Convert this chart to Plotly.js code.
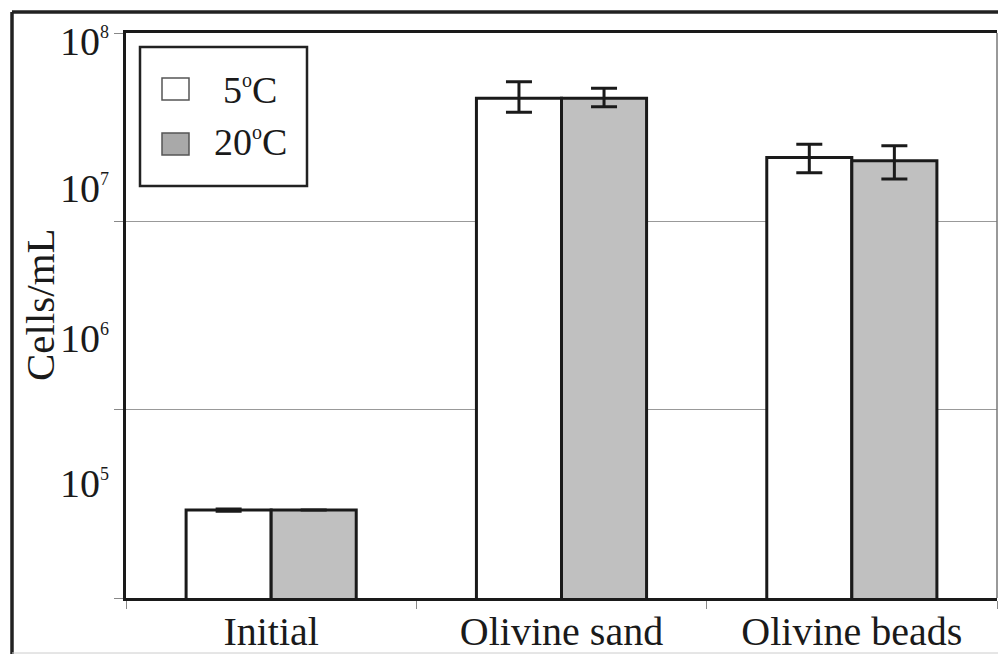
<!DOCTYPE html>
<html>
<head>
<meta charset="utf-8">
<script src="https://cdn.plot.ly/plotly-3.0.1.min.js"></script>
<style>html,body{margin:0;padding:0;background:#fff;}#chart{width:998px;height:654px;}</style>
</head>
<body>
<div id="chart"></div>
<script>
// ---- data ----
const categories = ['Initial', 'Olivine sand', 'Olivine beads'];
const seriesNames = ['5°C', '20°C'];
const cells5C = [2.93e5, 4.50e7, 2.18e7];
const cells5CErrPlus = [4e3, 1.01e7, 0.39e7];
const cells5CErrMinus = [4e3, 0.71e7, 0.37e7];
const cells20C = [2.93e5, 4.50e7, 2.10e7];
const cells20CErrPlus = [0, 0.59e7, 0.42e7];
const cells20CErrMinus = [0, 0.44e7, 0.42e7];
const yTickVals = [1e5, 1e6, 1e7, 1e8];
const yTickExponents = ['5', '6', '7', '8'];
const yAxisTitle = 'Cells/mL';

// ---- styles ----
const FONT = "'Liberation Serif', 'Times New Roman', serif";
const INK = '#1a1a1a';
const fills = ['#ffffff', '#c0c0c0'];
const swatchFills = ['#ffffff', '#a9a9a9'];

const supSmall = (s, size) => '<sup><span style="font-size:' + size + 'px">' + s + '</span></sup>';
const legendLabel = n => n.replace('°', supSmall('o', 20));

function barTrace(name, y, plus, minus, fill) {
  return {
    type: 'bar', name: name, x: categories, y: y,
    marker: {color: fill, line: {color: INK, width: 3}},
    error_y: {type: 'data', symmetric: false, array: plus, arrayminus: minus,
              color: INK, thickness: 3, width: 13},
    hoverinfo: 'x+y'
  };
}

const data = [
  barTrace(seriesNames[0], cells5C, cells5CErrPlus, cells5CErrMinus, fills[0]),
  barTrace(seriesNames[1], cells20C, cells20CErrPlus, cells20CErrMinus, fills[1])
];

// paper-coordinate helpers (plot area: x 126..997, y 33..598)
const L = 126, R = 997, T = 33, B = 598;
const px = v => (v - L) / (R - L);
const py = v => (B - v) / (B - T);

// y tick label positions as drawn in the original figure
const yLabelPix = [483, 338, 188, 41];

const annotations = [];
yTickExponents.forEach((e, i) => {
  annotations.push({
    xref: 'paper', yref: 'paper', x: px(111), y: py(yLabelPix[i]),
    xanchor: 'right', yanchor: 'middle', showarrow: false,
    text: '10' + supSmall(e, 18), font: {family: FONT, size: 40, color: INK}
  });
});
annotations.push({
  xref: 'paper', yref: 'paper', x: px(40), y: py(305), textangle: -90,
  xanchor: 'center', yanchor: 'middle', showarrow: false,
  text: yAxisTitle, font: {family: FONT, size: 41, color: INK}
});
// legend texts
const legendTextY = [90, 142];
seriesNames.forEach((n, i) => {
  annotations.push({
    xref: 'paper', yref: 'paper', x: px(250), y: py(legendTextY[i]),
    xanchor: 'center', yanchor: 'middle', showarrow: false,
    text: legendLabel(n), font: {family: FONT, size: 38, color: INK}
  });
});

const shapes = [
  // outer frame (top and left)
  {type: 'line', xref: 'paper', yref: 'paper', x0: px(12), x1: px(1010), y0: py(12), y1: py(12), line: {color: '#222', width: 3.5}},
  {type: 'line', xref: 'paper', yref: 'paper', x0: px(12), x1: px(12), y0: py(12), y1: py(670), line: {color: '#222', width: 3.5}},
  {type: 'line', xref: 'paper', yref: 'paper', x0: px(12), x1: px(1010), y0: py(653), y1: py(653), line: {color: '#cccccc', width: 1}},
  // right plot border
  {type: 'line', xref: 'paper', yref: 'paper', x0: 1, x1: 1, y0: 0, y1: 1, line: {color: '#777', width: 1.5}},
  // legend box
  {type: 'rect', xref: 'paper', yref: 'paper', layer: 'above', x0: px(140), x1: px(307), y0: py(186), y1: py(47),
   fillcolor: '#ffffff', line: {color: '#222', width: 2.5}},
  {type: 'rect', xref: 'paper', yref: 'paper', layer: 'above', x0: px(162), x1: px(189), y0: py(100), y1: py(78),
   fillcolor: swatchFills[0], line: {color: '#555', width: 1.5}},
  {type: 'rect', xref: 'paper', yref: 'paper', layer: 'above', x0: px(162), x1: px(189), y0: py(155), y1: py(133),
   fillcolor: swatchFills[1], line: {color: '#555', width: 1.5}}
];

const layout = {
  width: 998, height: 654,
  margin: {l: L, r: 998 - R, t: T, b: 654 - B},
  paper_bgcolor: '#ffffff', plot_bgcolor: '#ffffff',
  showlegend: false,
  barmode: 'group', bargap: 0.414, bargroupgap: 0,
  xaxis: {
    type: 'category', tickson: 'boundaries', ticks: 'outside', ticklen: 8,
    tickcolor: '#888', tickwidth: 1, showline: true, linecolor: INK, linewidth: 3,
    mirror: true, showgrid: false, ticklabelstandoff: -4,
    tickfont: {family: FONT, size: 40, color: INK}
  },
  yaxis: {
    type: 'log', range: [5, 8], tickvals: yTickVals, ticks: 'outside', ticklen: 9,
    tickcolor: '#888', tickwidth: 1, showticklabels: false,
    showgrid: true, gridcolor: '#999', gridwidth: 1,
    showline: true, linecolor: INK, linewidth: 3, zeroline: false
  },
  annotations: annotations,
  shapes: shapes
};

Plotly.newPlot('chart', data, layout, {displayModeBar: false, staticPlot: true});
</script>
</body>
</html>
